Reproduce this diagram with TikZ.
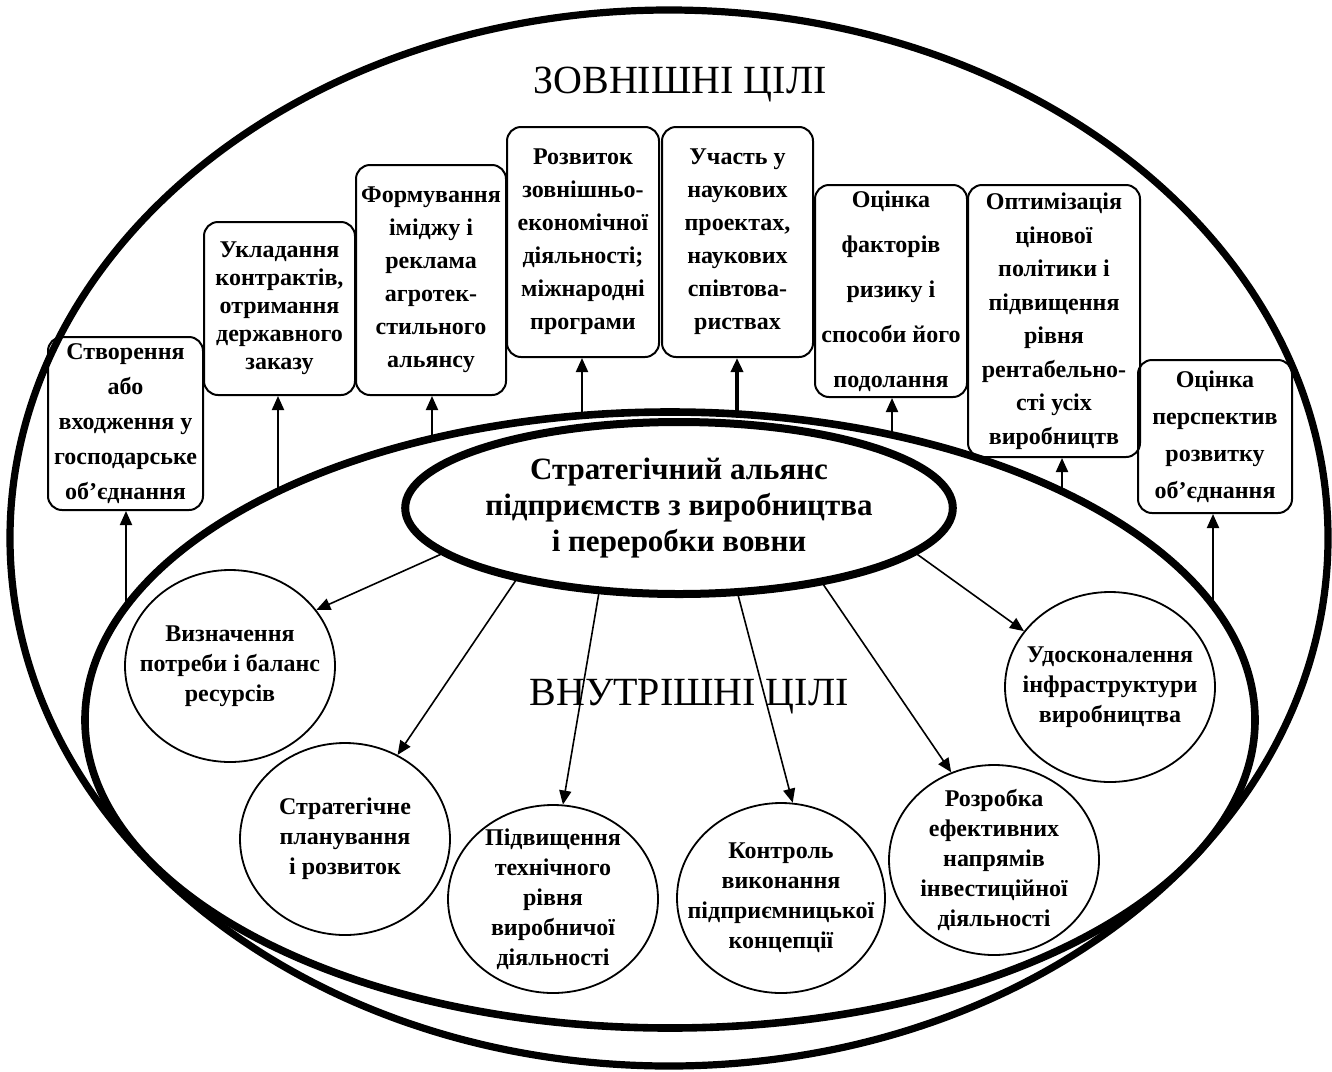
\documentclass[tikz,border=0pt]{standalone}
\usepackage{fontspec}
\setmainfont{Liberation Serif}
\usetikzlibrary{arrows.meta,shapes.geometric}

\begin{document}
\begin{tikzpicture}[x=0.5pt,y=-0.5pt,
  zgoal/.style={draw,line width=1pt,rounded corners=7pt,align=center,inner sep=0pt,
    font=\bfseries\fontsize{12}{#1}\selectfont},
  zgoal/.default=16.5,
  vtext/.style={align=center,inner sep=0pt,font=\bfseries\fontsize{12}{15}\selectfont},
  vgoal/.style={draw,ellipse,line width=0.9pt,inner sep=0pt,
    minimum width=105pt,minimum height=95pt,label={[vtext]center:{#1}}},
  outarr/.style={-{Triangle[length=7pt,width=6pt]},line width=1pt},
  inarr/.style={-{Triangle[length=7pt,width=6pt]},line width=0.8pt}]
\useasboundingbox (0,0) rectangle (1332,1071);

% outer and inner fields
\draw[line width=3.6pt] (669,538) ellipse [x radius=329.5pt, y radius=264pt];
\draw[line width=3.8pt] (670,720) ellipse [x radius=292.5pt, y radius=154pt];

\node[font=\fontsize{20}{24}\selectfont,anchor=base] (ztitle) at (680,93) {ЗОВНІШНІ ЦІЛІ};
\node[font=\fontsize{20}{24}\selectfont,anchor=base] (vtitle) at (689,705) {ВНУТРІШНІ ЦІЛІ};

% alliance
\node[draw,ellipse,line width=4pt,inner sep=0pt,minimum width=269pt,minimum height=86pt,
  align=center,font=\bfseries\fontsize{15.5}{18}\selectfont] (core) at (679,508)
  {Стратегічний альянс\\підприємств з виробництва\\і переробки вовни};

% external goals
\node[zgoal=17.5,minimum width=77.5pt,minimum height=86.5pt] (zg1) at (125.5,423.5)
  {Створення\\або\\входження у\\господарське\\об’єднання};
\node[zgoal=14,minimum width=75.5pt,minimum height=86.5pt] (zg2) at (279.5,308.5)
  {Укладання\\контрактів,\\отримання\\державного\\заказу};
\node[zgoal,minimum width=75pt,minimum height=115pt] (zg3) at (431,280)
  {Формування\\іміджу і\\реклама\\агротек-\\стильного\\альянсу};
\node[zgoal,minimum width=76pt,minimum height=115pt] (zg4) at (583,242)
  {Розвиток\\зовнішньо-\\економічної\\діяльності;\\міжнародні\\програми};
\node[zgoal,minimum width=75.5pt,minimum height=115pt] (zg5) at (737.5,242)
  {Участь у\\наукових\\проектах,\\наукових\\співтова-\\риствах};
\node[zgoal=22.5,minimum width=76pt,minimum height=106pt] (zg6) at (891,291)
  {Оцінка\\факторів\\ризику і\\способи його\\подолання};
\node[zgoal=16.75,minimum width=86pt,minimum height=136pt] (zg7) at (1054,321)
  {Оптимізація\\цінової\\політики і\\підвищення\\рівня\\рентабельно-\\сті усіх\\виробництв};
\node[zgoal=18.5,minimum width=77pt,minimum height=76.5pt] (zg8) at (1215,436.5)
  {Оцінка\\перспектив\\розвитку\\об’єднання};

% arrows from the inner field up to the boxes
\foreach \i/\x/\y in {1/126/607,2/278/491,3/432/439,4/582/415,5/737/414,6/892/435,7/1062/491,8/1213/605}
  \coordinate (s\i) at (\x,\y);
\foreach \i in {1,2,3,4,6,7,8}
  \draw[outarr] (s\i) -- (s\i |- zg\i.south);
\draw[outarr,line width=1.7pt] (s5) -- (s5 |- zg5.south);

% internal goals
\node[vgoal={Визначення\\потреби і баланс\\ресурсів},minimum width=105pt,minimum height=96pt] (vg1) at (230,666) {};
\node[vgoal={Стратегічне\\планування\\і розвиток},minimum height=96pt] (vg2) at (345,839) {};
\node[vgoal={Підвищення\\технічного\\рівня\\виробничої\\діяльності},minimum height=94pt] (vg3) at (553,899) {};
\node[vgoal={Контроль\\виконання\\підприємницької\\концепції},minimum width=104pt] (vg4) at (781,898) {};
\node[vgoal={Розробка\\ефективних\\напрямів\\інвестиційної\\діяльності}] (vg5) at (994,860) {};
\node[vgoal={Удосконалення\\інфраструктури\\виробництва}] (vg6) at (1110,687) {};

\draw[inarr] (core.191) -- (vg1.33);
\draw[inarr] (core.204) -- (vg2.58);
\draw[inarr] (core.227) -- (vg3.84);
\draw[inarr] (core.304) -- (vg4.83);
\draw[inarr] (core.332) -- (vg5.116);
\draw[inarr] (core.349) -- (vg6.147);
\end{tikzpicture}
\end{document}
